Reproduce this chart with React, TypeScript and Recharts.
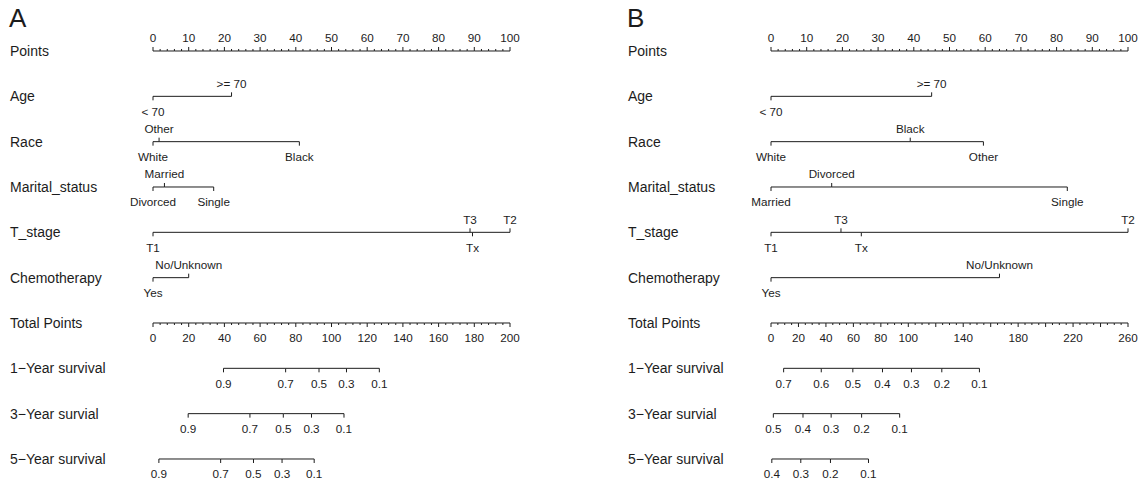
import React from 'react';
import { ComposedChart, Scatter, XAxis, YAxis } from 'recharts';

const INK = '#1c1c1c';
const FONT = "'Liberation Sans', Arial, Helvetica, sans-serif";

// Row labels (same for both panels)
const ROW_LABELS = [
  'Points',
  'Age',
  'Race',
  'Marital_status',
  'T_stage',
  'Chemotherapy',
  'Total Points',
  '1\u2212Year survival',
  '3\u2212Year survial',
  '5\u2212Year survival',
];
const ROW_IDX = [0, 1, 2, 3, 4, 5, 6, 7, 8, 9];

// Points scale (0-100)
const POINTS_LABELS = [0, 10, 20, 30, 40, 50, 60, 70, 80, 90, 100];
const POINTS_MINOR_STEP = 2;

// ---------- Panel A ----------
const A_TOTAL_MAX = 200;
const A_TOTAL_MAJOR = [0, 20, 40, 60, 80, 100, 120, 140, 160, 180, 200];
const A_TOTAL_LABELS = [0, 20, 40, 60, 80, 100, 120, 140, 160, 180, 200];
const A_TOTAL_MINOR_STEP = 4;

type Level = [string, number, 'above' | 'below'];

const A_AGE: Level[] = [['< 70', 0, 'below'], ['>= 70', 22, 'above']];
const A_RACE: Level[] = [['White', 0, 'below'], ['Other', 1.7, 'above'], ['Black', 41, 'below']];
const A_MARITAL: Level[] = [['Divorced', 0, 'below'], ['Married', 3.2, 'above'], ['Single', 17, 'below']];
const A_TSTAGE: Level[] = [['T1', 0, 'below'], ['T3', 88.8, 'above'], ['Tx', 89.5, 'below'], ['T2', 100, 'above']];
const A_CHEMO: Level[] = [['Yes', 0, 'below'], ['No/Unknown', 10, 'above']];

// survival probability -> total points position
const A_SURV1_PROB = ['0.9', '0.7', '0.5', '0.3', '0.1'];
const A_SURV1_POS = [39.5, 74.3, 93, 108.4, 126.8];
const A_SURV3_PROB = ['0.9', '0.7', '0.5', '0.3', '0.1'];
const A_SURV3_POS = [19.7, 54.3, 73, 88.8, 107];
const A_SURV5_PROB = ['0.9', '0.7', '0.5', '0.3', '0.1'];
const A_SURV5_POS = [3.3, 37.9, 56.3, 72.3, 90.3];

// ---------- Panel B ----------
const B_TOTAL_MAX = 260;
const B_TOTAL_MAJOR = [0, 20, 40, 60, 80, 100, 120, 140, 160, 180, 200, 220, 240, 260];
const B_TOTAL_LABELS = [0, 20, 40, 60, 80, 100, 140, 180, 220, 260];
const B_TOTAL_MINOR_STEP = 5;

const B_AGE: Level[] = [['< 70', 0, 'below'], ['>= 70', 45, 'above']];
const B_RACE: Level[] = [['White', 0, 'below'], ['Black', 39, 'above'], ['Other', 59.5, 'below']];
const B_MARITAL: Level[] = [['Married', 0, 'below'], ['Divorced', 17, 'above'], ['Single', 83, 'below']];
const B_TSTAGE: Level[] = [['T1', 0, 'below'], ['T3', 19.6, 'above'], ['Tx', 25.3, 'below'], ['T2', 100, 'above']];
const B_CHEMO: Level[] = [['Yes', 0, 'below'], ['No/Unknown', 64, 'above']];

const B_SURV1_PROB = ['0.7', '0.6', '0.5', '0.4', '0.3', '0.2', '0.1'];
const B_SURV1_POS = [9.2, 36.6, 59.6, 81.2, 102.3, 124.4, 151.8];
const B_SURV3_PROB = ['0.5', '0.4', '0.3', '0.2', '0.1'];
const B_SURV3_POS = [1.7, 23.3, 43.8, 66, 93.7];
const B_SURV5_PROB = ['0.4', '0.3', '0.2', '0.1'];
const B_SURV5_POS = [0.6, 21.7, 43.3, 71];

// ---------- helpers ----------
type Pt = { x: number; y: number; label?: string; side: 'above' | 'below'; len: number };

function axisPoints(row: number, max: number, major: number[], labels: number[], minorStep: number, side: 'above' | 'below'): Pt[] {
  const pts: Pt[] = [];
  const n = Math.round(max / minorStep);
  for (let i = 0; i <= n; i++) {
    const v = i * minorStep;
    if (major.some((m) => Math.abs(m - v) < 1e-9)) continue;
    pts.push({ x: v, y: row, side, len: 2 });
  }
  major.forEach((m) => {
    const lab = labels.includes(m) ? String(m) : undefined;
    pts.push({ x: m, y: row, side, len: 4, label: lab });
  });
  return pts.sort((a, b) => a.x - b.x);
}

function levelPoints(row: number, levels: Level[]): Pt[] {
  return levels
    .map(([label, x, side]) => ({ x, y: row, label, side, len: 4 }))
    .sort((a, b) => a.x - b.x);
}

function survPoints(row: number, probs: string[], pos: number[]): Pt[] {
  return pos
    .map((x, i) => ({ x, y: row, label: probs[i], side: 'below' as const, len: 4 }))
    .sort((a, b) => a.x - b.x);
}

const TickMark = (props: any) => {
  const { cx, cy, payload } = props;
  if (cx == null || cy == null || !payload) return null;
  const dir = payload.side === 'above' ? -1 : 1;
  const labelOffset = payload.side === 'above' ? -13 : 15;
  return (
    <g>
      <line x1={cx} y1={cy} x2={cx} y2={cy + dir * payload.len} stroke={INK} strokeWidth={1} />
      {payload.label != null && (
        <text
          x={cx}
          y={cy + labelOffset}
          dy="0.36em"
          textAnchor="middle"
          fontSize={11.7}
          fill={INK}
          style={{ fontFamily: FONT }}
        >
          {payload.label}
        </text>
      )}
    </g>
  );
};

const RowLabel = (props: any) => {
  const { y, payload } = props;
  return (
    <text x={10} y={y} dy="0.36em" textAnchor="start" fontSize={14} fill={INK} style={{ fontFamily: FONT }}>
      {ROW_LABELS[payload.value]}
    </text>
  );
};

const LINE = { stroke: INK, strokeWidth: 1 };

type PanelProps = {
  width: number;
  rightMargin: number;
  totalMax: number;
  totalMajor: number[];
  totalLabels: number[];
  totalMinor: number;
  age: Level[];
  race: Level[];
  marital: Level[];
  tstage: Level[];
  chemo: Level[];
  s1: [string[], number[]];
  s3: [string[], number[]];
  s5: [string[], number[]];
};

function Panel(p: PanelProps) {
  const pointsRows: Pt[][] = [
    axisPoints(0, 100, POINTS_LABELS, POINTS_LABELS, POINTS_MINOR_STEP, 'above'),
    levelPoints(1, p.age),
    levelPoints(2, p.race),
    levelPoints(3, p.marital),
    levelPoints(4, p.tstage),
    levelPoints(5, p.chemo),
  ];
  const totalRows: Pt[][] = [
    axisPoints(6, p.totalMax, p.totalMajor, p.totalLabels, p.totalMinor, 'below'),
    survPoints(7, p.s1[0], p.s1[1]),
    survPoints(8, p.s3[0], p.s3[1]),
    survPoints(9, p.s5[0], p.s5[1]),
  ];
  return (
    <ComposedChart width={p.width} height={487} margin={{ top: 0, right: p.rightMargin, bottom: 0, left: 0 }}>
      <XAxis xAxisId="pts" type="number" dataKey="x" domain={[0, 100]} hide />
      <XAxis xAxisId="tot" type="number" dataKey="x" domain={[0, p.totalMax]} hide />
      <YAxis
        yAxisId="row"
        type="number"
        dataKey="y"
        domain={[-1.125, 9.618]}
        reversed
        width={153}
        ticks={ROW_IDX}
        interval={0}
        axisLine={false}
        tickLine={false}
        tick={<RowLabel />}
      />
      {pointsRows.map((d, i) => (
        <Scatter
          key={'p' + i}
          xAxisId="pts"
          yAxisId="row"
          data={d}
          fill="none"
          line={LINE}
          shape={TickMark}
          isAnimationActive={false}
          legendType="none"
        />
      ))}
      {totalRows.map((d, i) => (
        <Scatter
          key={'t' + i}
          xAxisId="tot"
          yAxisId="row"
          data={d}
          fill="none"
          line={LINE}
          shape={TickMark}
          isAnimationActive={false}
          legendType="none"
        />
      ))}
    </ComposedChart>
  );
}

export default function App() {
  return (
    <div style={{ position: 'absolute', left: 0, top: 0, width: 1145, height: 487, background: '#fff', fontFamily: FONT, color: INK }}>
      <div style={{ position: 'absolute', left: 9, top: 5, fontSize: 26, lineHeight: '26px' }}>A</div>
      <div style={{ position: 'absolute', left: 627, top: 5, fontSize: 26, lineHeight: '26px' }}>B</div>
      <div style={{ position: 'absolute', left: 0, top: 0 }}>
        <Panel
          width={618}
          rightMargin={108}
          totalMax={A_TOTAL_MAX}
          totalMajor={A_TOTAL_MAJOR}
          totalLabels={A_TOTAL_LABELS}
          totalMinor={A_TOTAL_MINOR_STEP}
          age={A_AGE}
          race={A_RACE}
          marital={A_MARITAL}
          tstage={A_TSTAGE}
          chemo={A_CHEMO}
          s1={[A_SURV1_PROB, A_SURV1_POS]}
          s3={[A_SURV3_PROB, A_SURV3_POS]}
          s5={[A_SURV5_PROB, A_SURV5_POS]}
        />
      </div>
      <div style={{ position: 'absolute', left: 618, top: 0 }}>
        <Panel
          width={527}
          rightMargin={17}
          totalMax={B_TOTAL_MAX}
          totalMajor={B_TOTAL_MAJOR}
          totalLabels={B_TOTAL_LABELS}
          totalMinor={B_TOTAL_MINOR_STEP}
          age={B_AGE}
          race={B_RACE}
          marital={B_MARITAL}
          tstage={B_TSTAGE}
          chemo={B_CHEMO}
          s1={[B_SURV1_PROB, B_SURV1_POS]}
          s3={[B_SURV3_PROB, B_SURV3_POS]}
          s5={[B_SURV5_PROB, B_SURV5_POS]}
        />
      </div>
    </div>
  );
}
